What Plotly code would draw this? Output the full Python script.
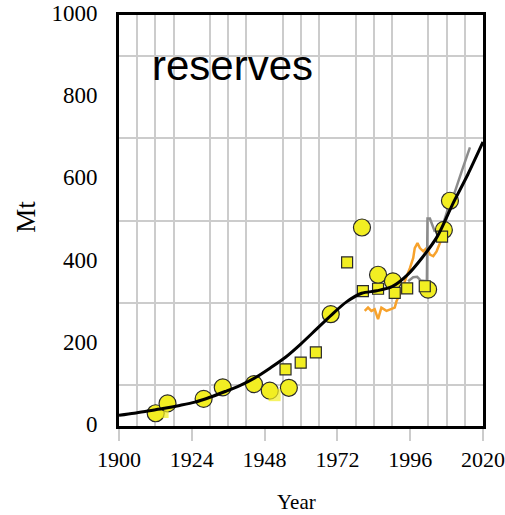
import plotly.graph_objects as go

# Reserve estimates (Mt) by year
circle_years = [1912.1, 1916.0, 1927.9, 1934.2, 1944.5, 1949.7, 1956.0, 1969.8,
                1980.1, 1985.4, 1990.3, 2001.9, 2007.1, 2009.1]
circle_vals = [31, 55, 66, 94, 102, 86, 93, 272, 483, 368, 352, 332, 477, 548]

square_years = [1954.9, 1959.9, 1964.9, 1975.2, 1980.4, 1985.4, 1990.9, 1995.0, 2000.8, 2006.5]
square_vals = [138, 154, 179, 398, 328, 334, 324, 335, 340, 461]

# Unbordered points
plain_years = [1951.3, 1915.2]
plain_vals = [75, 28]

# Fitted trend
trend_years = [1900, 1905, 1910, 1915, 1920, 1925, 1930, 1935, 1940, 1945, 1950, 1955,
               1960, 1965, 1970, 1975, 1980, 1985, 1990, 1995, 2000, 2005, 2010, 2015, 2020]
trend_vals = [26, 31, 37, 43, 50, 58, 70, 84, 99, 118, 142, 168,
              200, 235, 270, 302, 323, 329, 339, 367, 410, 462, 540, 612, 691]

# Annual series
orange_years = [1981.0, 1982.1, 1983.2, 1984.3, 1985.4, 1986.5, 1988.2, 1989.8, 1990.9, 1991.5,
                1993.1, 1994.8, 1995.9, 1997.0, 1997.5, 1998.4, 1999.2, 2000.3, 2001.4, 2002.5,
                2003.6, 2004.7, 2005.8, 2006.9]
orange_vals = [280, 288, 280, 284, 260, 288, 280, 284, 288, 304,
               328, 364, 384, 409, 433, 445, 433, 425, 433, 417,
               413, 425, 445, 465]

grey_years = [1995.3, 1997.0, 1998.3, 1999.5, 2001.5, 2001.7, 2002.5, 2004.0, 2005.5,
              2007.0, 2008.5, 2010.5, 2013.0, 2015.7]
grey_vals = [352, 362, 363, 354, 352, 505, 505, 475, 478, 495, 530, 565, 620, 678]

YELLOW = "#f2ee22"
EDGE = "#2a2a2a"
GRID = "#cccccc"

fig = go.Figure()

fig.add_trace(go.Scatter(x=orange_years, y=orange_vals, mode="lines",
                         line=dict(color="#f7a22c", width=2.5)))
fig.add_trace(go.Scatter(x=grey_years, y=grey_vals, mode="lines",
                         line=dict(color="#8c8c8c", width=2.5)))
fig.add_trace(go.Scatter(x=circle_years, y=circle_vals, mode="markers",
                         marker=dict(symbol="circle", size=17, color=YELLOW,
                                     line=dict(color=EDGE, width=1.2))))
fig.add_trace(go.Scatter(x=square_years, y=square_vals, mode="markers",
                         marker=dict(symbol="square", size=11, color=YELLOW,
                                     line=dict(color=EDGE, width=1.2))))
fig.add_trace(go.Scatter(x=plain_years, y=plain_vals, mode="markers",
                         marker=dict(symbol="square", size=[12, 7], color=YELLOW,
                                     line=dict(width=0))))
fig.add_trace(go.Scatter(x=trend_years, y=trend_vals, mode="lines",
                         line=dict(color="black", width=3, shape="spline", smoothing=0.8)))

fig.update_xaxes(range=[1900, 2020], tickmode="linear", tick0=1900, dtick=24,
                 showgrid=False, automargin=False,
                 minor=dict(tickmode="linear", tick0=1900, dtick=6, showgrid=True,
                            gridcolor=GRID, gridwidth=1.5, ticks=""),
                 ticks="outside", ticklen=12, tickwidth=1.5, tickcolor=GRID,
                 ticklabelstandoff=0,
                 tickfont=dict(family="Liberation Serif", size=22, color="black"),
                 showline=True, mirror=True, linecolor="black", linewidth=3,
                 zeroline=False)
fig.update_yaxes(range=[0, 1000], tickmode="linear", tick0=0, dtick=200,
                 showgrid=False, automargin=False,
                 minor=dict(tickmode="linear", tick0=0, dtick=100, showgrid=True,
                            gridcolor=GRID, gridwidth=1.5, ticks=""),
                 ticks="", ticklabelstandoff=14, ticklabelshift=-2,
                 tickfont=dict(family="Liberation Serif", size=23, color="black"),
                 showline=True, mirror=True, linecolor="black", linewidth=3,
                 zeroline=False)

fig.add_annotation(text="reserves", xref="paper", yref="paper", x=0.085, y=0.877,
                   xanchor="left", yanchor="middle", showarrow=False,
                   font=dict(family="Liberation Sans", size=42, color="black"))
fig.add_annotation(text="Year", xref="paper", yref="paper", x=0.489, y=-0.186,
                   xanchor="center", yanchor="middle", showarrow=False,
                   font=dict(family="Liberation Serif", size=21, color="black"))
fig.add_annotation(text="Mt", xref="paper", yref="paper", x=-0.254, y=0.508,
                   xanchor="center", yanchor="middle", showarrow=False, textangle=-90,
                   font=dict(family="Liberation Serif", size=27, color="black"))

fig.update_layout(template="none", width=505, height=515, showlegend=False,
                  margin=dict(l=119, r=22, t=15, b=89),
                  plot_bgcolor="white", paper_bgcolor="white")

fig.write_html("out.html")
